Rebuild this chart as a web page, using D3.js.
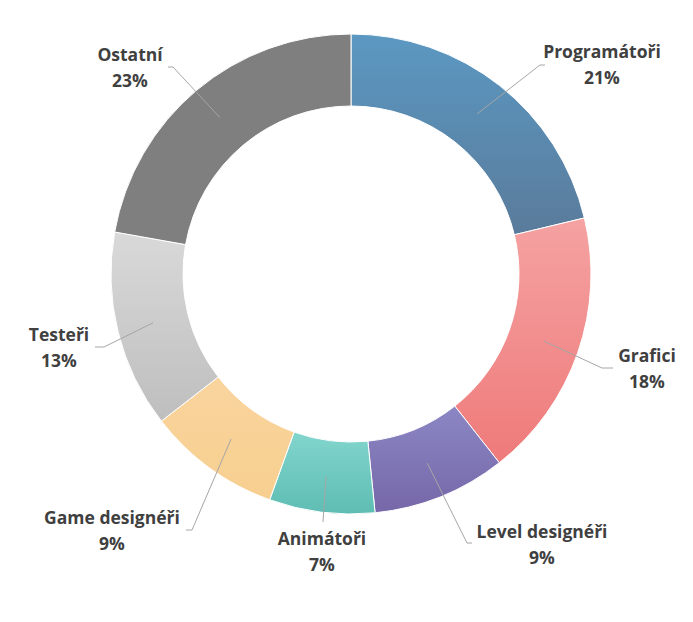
<!DOCTYPE html>
<html>
<head>
<meta charset="utf-8">
<script src="https://cdn.jsdelivr.net/npm/d3@7"></script>
<style>
  html, body { margin: 0; padding: 0; background: #fff; }
  svg { display: block; }
  text { font-family: "Open Sans", "DejaVu Sans", sans-serif; font-weight: 700; fill: #404040; }
</style>
</head>
<body>
<svg id="chart" width="693" height="622"></svg>
<script>
// ---- data ----
const categories = ["Programátoři", "Grafici", "Level designéři", "Animátoři", "Game designéři", "Testeři", "Ostatní"];
// slice sizes (percent)
const values = [21.25, 18.15, 9.0, 7.1, 9.0, 13.3, 22.2];
const percentLabels = ["21%", "18%", "9%", "7%", "9%", "13%", "23%"];

// ---- style / layout ----
const colorsTop =    ["#5b98c2", "#f5a2a2", "#8b87c4", "#82d5cd", "#f9d49d", "#d9d9d9", "#7f7f7f"];
const colorsBottom = ["#5a7b9b", "#ef7a7a", "#7667a8", "#5ebdb3", "#f7cf90", "#bebebe", "#7f7f7f"];
// label centre (x, first-line y) and leader line end (x, y) + short horizontal end (hx)
const labelLayout = [
  {x: 602, y: 52, ex: 540, ey: 65, hx: 545},
  {x: 647, y: 356, ex: 602, ey: 368, hx: 613},
  {x: 542, y: 532, ex: 467, ey: 543, hx: 472},
  {x: 322, y: 539, ex: 323, ey: 522, hx: 323},
  {x: 112, y: 518, ex: 192, ey: 530, hx: 186},
  {x: 59, y: 335, ex: 104, ey: 347, hx: 95},
  {x: 130, y: 55, ex: 173, ey: 67, hx: 168}
];

const cx = 351, cy = 274, rOuter = 240, rInner = 168;

const svg = d3.select("#chart");
const defs = svg.append("defs");
categories.forEach((c, i) => {
  const g = defs.append("linearGradient")
    .attr("id", "grad" + i)
    .attr("x1", 0).attr("y1", 0).attr("x2", 0).attr("y2", 1);
  g.append("stop").attr("offset", "0%").attr("stop-color", colorsTop[i]);
  g.append("stop").attr("offset", "100%").attr("stop-color", colorsBottom[i]);
});

const pie = d3.pie().sort(null).value(d => d)(values);
const arc = d3.arc().innerRadius(rInner).outerRadius(rOuter);
const midArc = d3.arc().innerRadius((rInner + rOuter) / 2).outerRadius((rInner + rOuter) / 2);

const g = svg.append("g").attr("transform", `translate(${cx},${cy})`);

g.selectAll("path.slice")
  .data(pie)
  .join("path")
  .attr("class", "slice")
  .attr("d", arc)
  .attr("fill", (d, i) => `url(#grad${i})`)
  .attr("stroke", "#ffffff")
  .attr("stroke-width", 1);

// leader lines
g.selectAll("polyline.leader")
  .data(pie)
  .join("polyline")
  .attr("class", "leader")
  .attr("fill", "none")
  .attr("stroke", "#a6a6a6")
  .attr("stroke-width", 1)
  .attr("points", (d, i) => {
    const c = midArc.centroid(d);
    const L = labelLayout[i];
    return [[c[0], c[1]], [L.ex - cx, L.ey - cy], [L.hx - cx, L.ey - cy]].map(p => p.join(",")).join(" ");
  });

// labels
const lab = svg.selectAll("text.lab")
  .data(pie)
  .join("text")
  .attr("class", "lab")
  .attr("text-anchor", "middle")
  .style("font-size", "17.5px");
lab.append("tspan")
  .attr("x", (d, i) => labelLayout[i].x)
  .attr("y", (d, i) => labelLayout[i].y)
  .attr("dy", "0.35em")
  .text((d, i) => categories[i]);
lab.append("tspan")
  .attr("x", (d, i) => labelLayout[i].x)
  .attr("y", (d, i) => labelLayout[i].y + 26)
  .attr("dy", "0.35em")
  .text((d, i) => percentLabels[i]);
</script>
</body>
</html>
